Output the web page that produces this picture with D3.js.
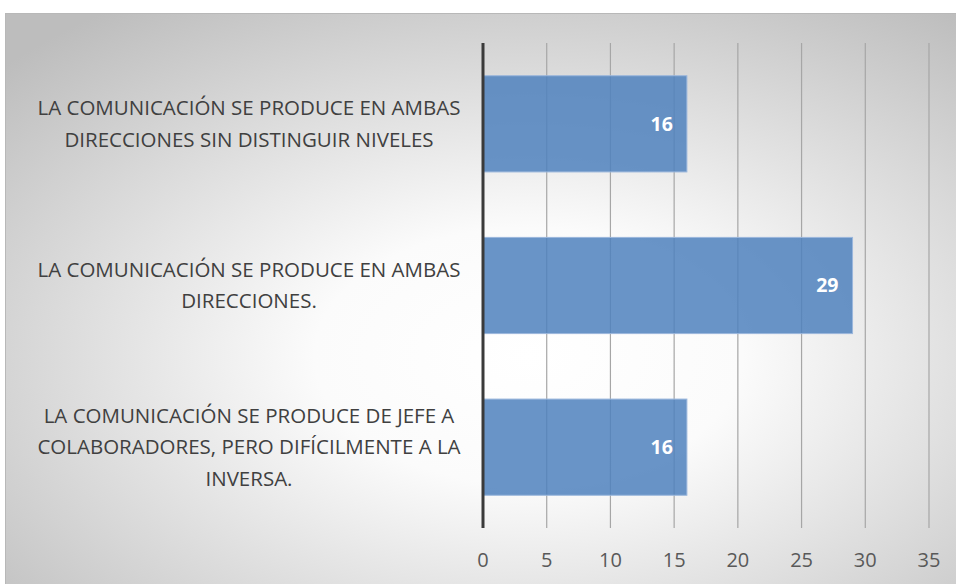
<!DOCTYPE html>
<html>
<head>
<meta charset="utf-8">
<script src="https://cdn.jsdelivr.net/npm/d3@7"></script>
<style>
  body { margin: 0; background: #fff; }
  svg { display: block; }
</style>
</head>
<body>
<svg width="956" height="584"></svg>
<script>
// data
const categories = [
  ["LA COMUNICACIÓN SE PRODUCE EN AMBAS", "DIRECCIONES SIN DISTINGUIR NIVELES"],
  ["LA COMUNICACIÓN SE PRODUCE EN AMBAS", "DIRECCIONES."],
  ["LA COMUNICACIÓN SE PRODUCE DE JEFE A", "COLABORADORES, PERO DIFÍCILMENTE A LA", "INVERSA."]
];
const values = [16, 29, 16];
const xTicks = [0, 5, 10, 15, 20, 25, 30, 35];

const svg = d3.select("svg");
const width = +svg.attr("width");
const height = +svg.attr("height");
const font = "'Open Sans', 'Noto Sans', sans-serif";

// background with radial gradient
const defs = svg.append("defs");
const grad = defs.append("radialGradient")
    .attr("id", "bg")
    .attr("cx", "55%").attr("cy", "60%").attr("r", "75%");
grad.append("stop").attr("offset", "0%").attr("stop-color", "#ffffff");
grad.append("stop").attr("offset", "30%").attr("stop-color", "#fbfbfb");
grad.append("stop").attr("offset", "100%").attr("stop-color", "#bdbdbd");

svg.append("rect")
    .attr("x", 5.5).attr("y", 13.5)
    .attr("width", width - 5).attr("height", height - 13)
    .attr("fill", "url(#bg)")
    .attr("stroke", "#b8b8b8")
    .attr("stroke-width", 1);

const margin = {top: 43, bottom: 56, left: 483, right: 27};

const x = d3.scaleLinear()
    .domain([0, 35])
    .range([margin.left, width - margin.right]);

const y = d3.scaleBand()
    .domain(d3.range(values.length))
    .range([margin.top, height - margin.bottom])
    .paddingInner(0.405)
    .paddingOuter(0.2025);

// gridlines
svg.append("g")
    .selectAll("line")
    .data(xTicks.slice(1))
    .enter()
    .append("line")
    .attr("x1", d => x(d)).attr("x2", d => x(d))
    .attr("y1", margin.top).attr("y2", height - margin.bottom)
    .attr("stroke", "#a6a6a6")
    .attr("stroke-width", 1.2);

// bars
svg.append("g")
    .selectAll("rect")
    .data(values)
    .enter()
    .append("rect")
    .attr("x", x(0))
    .attr("y", (d, i) => y(i))
    .attr("width", d => x(d) - x(0))
    .attr("height", y.bandwidth())
    .attr("fill", "#4f81bd")
    .attr("fill-opacity", 0.85)
    .attr("stroke", "#9bb7dc")
    .attr("stroke-width", 1);

// value labels
svg.append("g")
    .selectAll("text")
    .data(values)
    .enter()
    .append("text")
    .attr("x", d => x(d) - 14)
    .attr("y", (d, i) => y(i) + y.bandwidth() / 2)
    .attr("dy", "0.35em")
    .attr("text-anchor", "end")
    .attr("font-family", font)
    .attr("font-weight", "bold")
    .attr("font-size", 19.5)
    .attr("fill", "#ffffff")
    .text(d => d);

// value axis line (thick, at 0)
svg.append("line")
    .attr("x1", x(0)).attr("x2", x(0))
    .attr("y1", margin.top).attr("y2", height - margin.bottom)
    .attr("stroke", "#3a3a3a")
    .attr("stroke-width", 3);

// x tick labels
svg.append("g")
    .selectAll("text")
    .data(xTicks)
    .enter()
    .append("text")
    .attr("x", d => x(d))
    .attr("y", height - margin.bottom + 39)
    .attr("text-anchor", "middle")
    .attr("font-family", font)
    .attr("font-size", 20)
    .attr("fill", "#595959")
    .text(d => d);

// category labels
const lineH = 31.5;
const cat = svg.append("g")
    .selectAll("text")
    .data(categories)
    .enter()
    .append("text")
    .attr("text-anchor", "middle")
    .attr("font-family", font)
    .attr("font-size", 20.5)
    .attr("fill", "#404040");

cat.each(function (lines, i) {
  const cy = y(i) + y.bandwidth() / 2;
  const y0 = cy - (lines.length - 1) * lineH / 2;
  d3.select(this).selectAll("tspan")
      .data(lines)
      .enter()
      .append("tspan")
      .attr("x", 249)
      .attr("y", (d, j) => y0 + j * lineH)
      .attr("dy", "0.35em")
      .text(d => d);
});
</script>
</body>
</html>
